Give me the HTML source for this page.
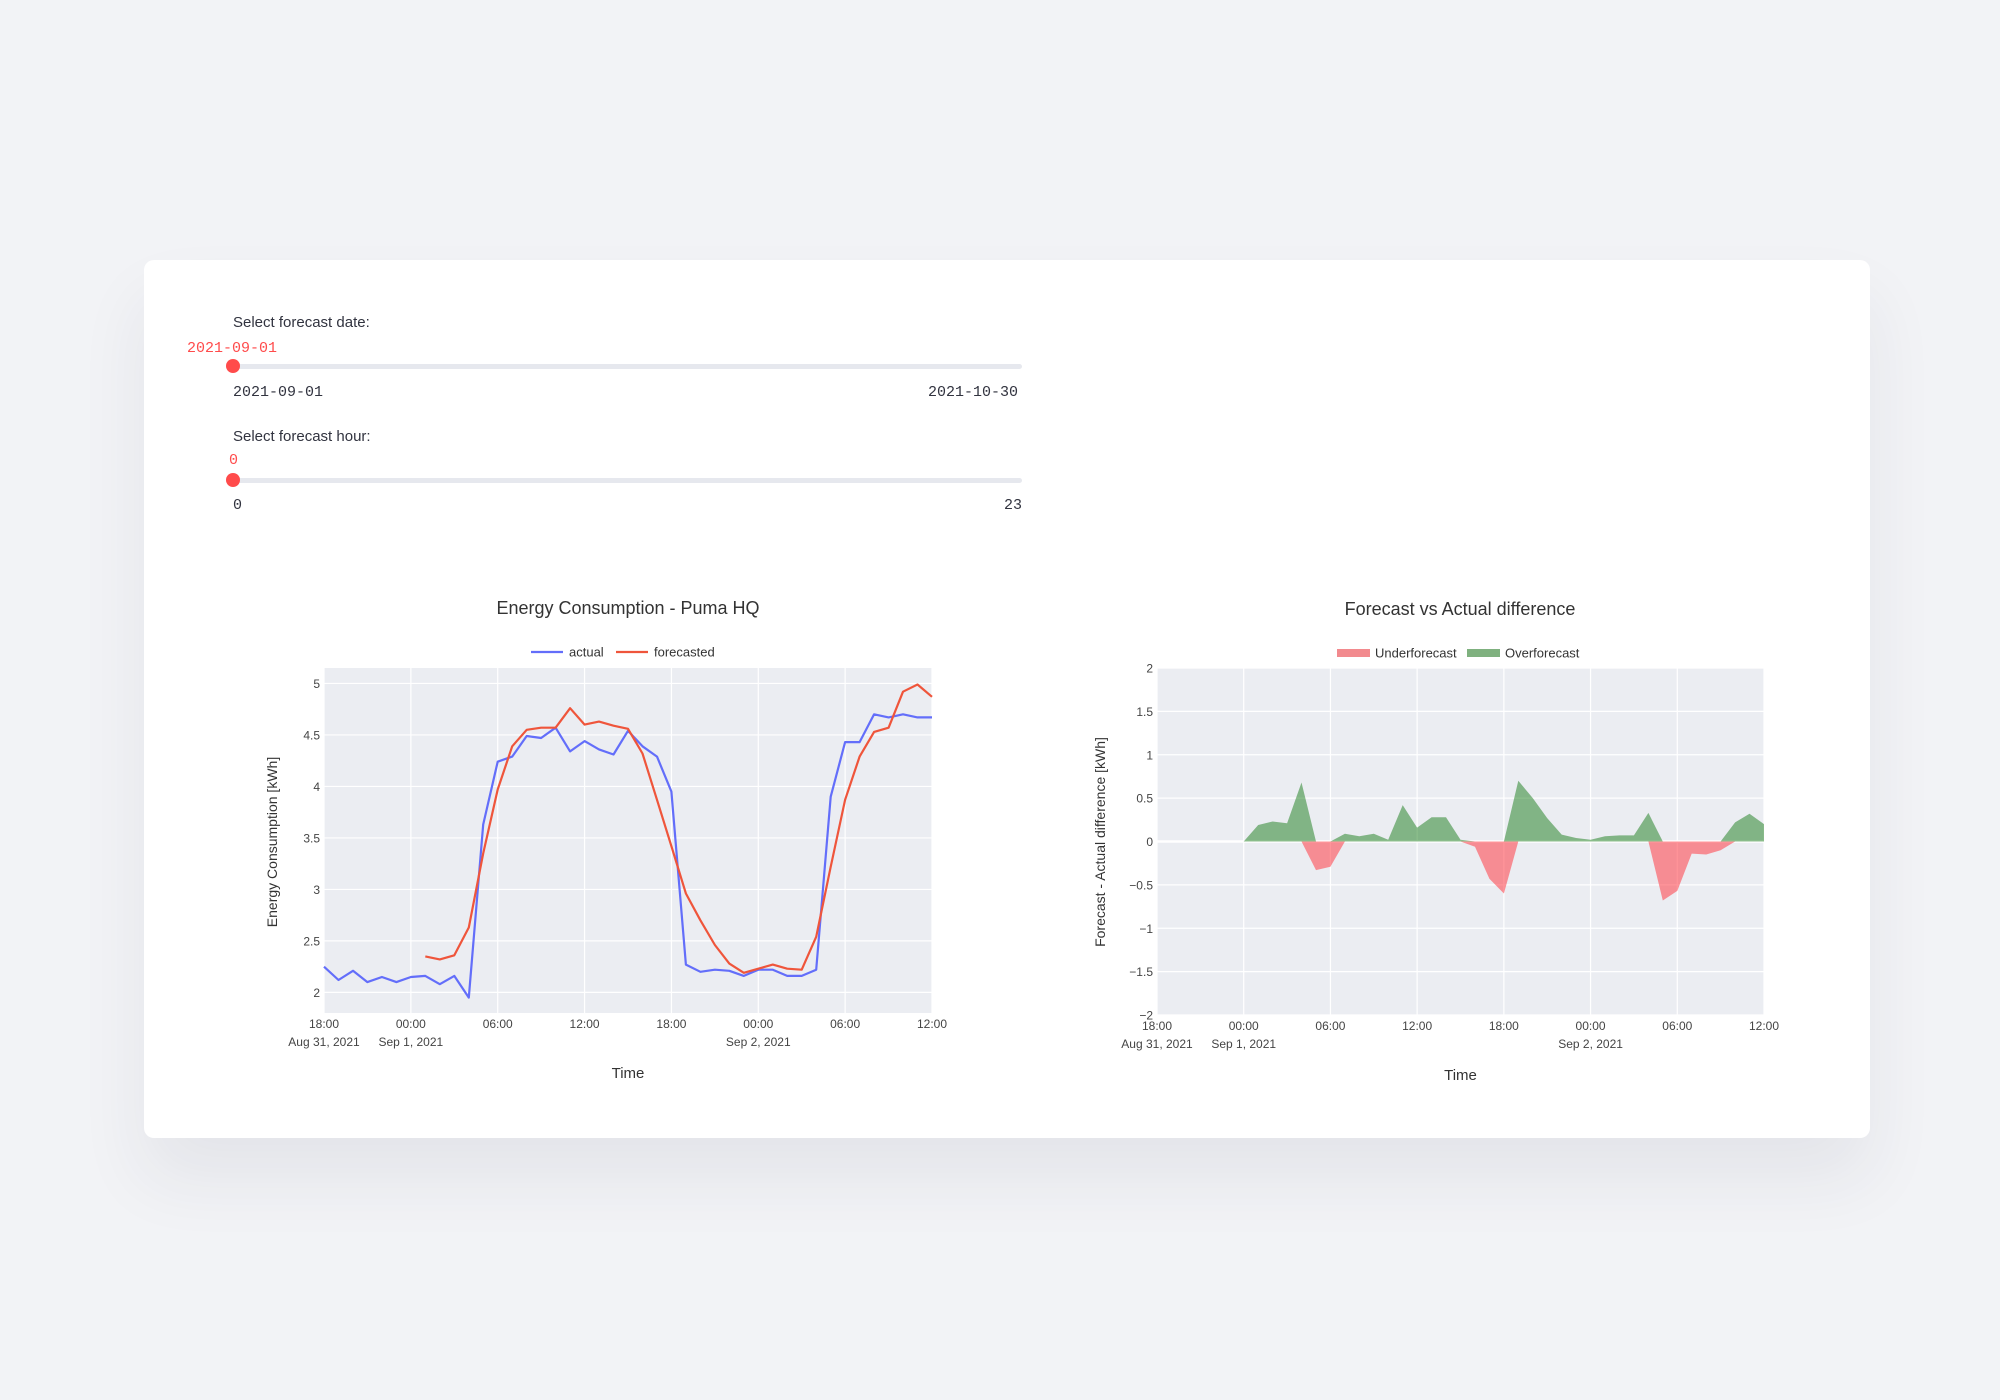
<!DOCTYPE html>
<html><head><meta charset="utf-8">
<style>
html,body{margin:0;padding:0;width:2000px;height:1400px;background:#f2f3f6;overflow:hidden;font-family:"Liberation Sans",sans-serif;}
.card{position:absolute;left:144px;top:260px;width:1726px;height:878px;background:#fff;border-radius:10px;box-shadow:0 40px 70px rgba(40,40,70,0.07);}
.lbl{position:absolute;font-size:15px;color:#31333f;}
.mono{position:absolute;font-family:"Liberation Mono",monospace;font-size:15px;color:#31333f;}
.red{color:#ff4b4b;}
.track{position:absolute;height:5px;background:#e6e8ee;border-radius:3px;}
.knob{position:absolute;width:14px;height:14px;border-radius:50%;background:#ff4b4b;}
svg{position:absolute;left:0;top:0;}
</style></head><body>
<div class="card"></div>
<div class="lbl" style="left:233px;top:314px">Select forecast date:</div>
<div class="mono red" style="left:187px;top:340px">2021-09-01</div>
<div class="track" style="left:233px;top:364px;width:789px"></div>
<div class="knob" style="left:226px;top:359px"></div>
<div class="mono" style="left:233px;top:384px">2021-09-01</div>
<div class="mono" style="left:928px;top:384px">2021-10-30</div>
<div class="lbl" style="left:233px;top:428px">Select forecast hour:</div>
<div class="mono red" style="left:229px;top:452px">0</div>
<div class="track" style="left:233px;top:478px;width:789px"></div>
<div class="knob" style="left:226px;top:473px"></div>
<div class="mono" style="left:233px;top:497px">0</div>
<div class="mono" style="left:1004px;top:497px">23</div>
<svg id="s" width="2000" height="1400" font-family="Liberation Sans, sans-serif"></svg>
<script>
var A=[2.25,2.12,2.21,2.10,2.15,2.10,2.15,2.16,2.08,2.16,1.95,3.63,4.24,4.29,4.49,4.47,4.57,4.34,4.44,4.36,4.31,4.54,4.39,4.29,3.95,2.27,2.20,2.22,2.21,2.16,2.22,2.22,2.16,2.16,2.22,3.90,4.43,4.43,4.70,4.67,4.70,4.67,4.67];
var F=[2.35,2.32,2.36,2.63,3.35,3.97,4.39,4.55,4.57,4.57,4.76,4.60,4.63,4.59,4.56,4.32,3.87,3.42,2.96,2.70,2.46,2.28,2.19,2.23,2.27,2.23,2.22,2.54,3.22,3.87,4.29,4.53,4.57,4.92,4.99,4.87];
var D=[0,0.19,0.23,0.21,0.68,-0.33,-0.29,0.09,0.06,0.09,0.02,0.42,0.16,0.28,0.28,0.02,-0.06,-0.43,-0.6,0.7,0.5,0.27,0.08,0.04,0.02,0.06,0.07,0.07,0.33,-0.68,-0.57,-0.14,-0.15,-0.10,0.22,0.32,0.2];
var h='';
function plot(x0,x1,y0,y1,vmin,vmax,ticks){
 var X=function(t){return x0+(x1-x0)*t/42};
 var Y=function(v){return y1-(y1-y0)*(v-vmin)/(vmax-vmin)};
 h+='<rect x="'+x0+'" y="'+y0+'" width="'+(x1-x0)+'" height="'+(y1-y0)+'" fill="#ebedf2"/>';
 for(var t=0;t<=42;t+=6)h+='<line x1="'+X(t)+'" x2="'+X(t)+'" y1="'+y0+'" y2="'+y1+'" stroke="#fff" stroke-width="1.2"/>';
 ticks.forEach(function(v){h+='<line x1="'+x0+'" x2="'+x1+'" y1="'+Y(v)+'" y2="'+Y(v)+'" stroke="#fff" stroke-width="'+(v==0?2.5:1.2)+'"/>';
 h+='<text x="'+(x0-4)+'" y="'+(Y(v)+4.5)+'" font-size="12" fill="#444" text-anchor="end">'+(v<0?'\u2212'+(-v):v)+'</text>';});
 var lab=['18:00','00:00','06:00','12:00','18:00','00:00','06:00','12:00'];
 for(var i=0;i<8;i++)h+='<text x="'+X(i*6)+'" y="'+(y1+15)+'" font-size="12" fill="#444" text-anchor="middle">'+lab[i]+'</text>';
 h+='<text x="'+X(0)+'" y="'+(y1+33)+'" font-size="12" fill="#444" text-anchor="middle">Aug 31, 2021</text>';
 h+='<text x="'+X(6)+'" y="'+(y1+33)+'" font-size="12" fill="#444" text-anchor="middle">Sep 1, 2021</text>';
 h+='<text x="'+X(30)+'" y="'+(y1+33)+'" font-size="12" fill="#444" text-anchor="middle">Sep 2, 2021</text>';
 h+='<text x="'+((x0+x1)/2)+'" y="'+(y1+65)+'" font-size="15" fill="#333" text-anchor="middle">Time</text>';
 return [X,Y];
}
var L=plot(324,932,668,1013,1.80,5.15,[2,2.5,3,3.5,4,4.5,5]);
function line(arr,off,f,col){var p='';arr.forEach(function(v,i){p+=(i?'L':'M')+f[0](i+off).toFixed(1)+','+f[1](v).toFixed(1)});h+='<path d="'+p+'" fill="none" stroke="'+col+'" stroke-width="2.2" stroke-linejoin="round"/>';}
line(A,0,L,'#636efa');line(F,7,L,'#ef553b');
h+='<text x="628" y="614" font-size="18" fill="#333" text-anchor="middle">Energy Consumption - Puma HQ</text>';
h+='<line x1="531" x2="563" y1="652" y2="652" stroke="#636efa" stroke-width="2.2"/><text x="569" y="656.5" font-size="13" fill="#333">actual</text>';
h+='<line x1="616" x2="648" y1="652" y2="652" stroke="#ef553b" stroke-width="2.2"/><text x="654" y="656.5" font-size="13" fill="#333">forecasted</text>';
h+='<text transform="translate(277,842) rotate(-90)" font-size="14" fill="#333" text-anchor="middle">Energy Consumption [kWh]</text>';
var R=plot(1157,1764,668,1015,-2,2,[-2,-1.5,-1,-0.5,0,0.5,1,1.5,2]);
function area(fn,col){var p='M'+R[0](6)+','+R[1](0);D.forEach(function(v,i){p+='L'+R[0](i+6).toFixed(1)+','+R[1](fn(v)).toFixed(1)});p+='L'+R[0](42)+','+R[1](0)+'Z';h+='<path d="'+p+'" fill="'+col+'" />';}
area(function(v){return Math.max(v,0)},'rgba(0,110,0,0.45)');
area(function(v){return Math.min(v,0)},'rgba(255,60,70,0.55)');
h+='<text x="1460" y="615" font-size="18" fill="#333" text-anchor="middle">Forecast vs Actual difference</text>';
h+='<rect x="1337" y="649" width="33" height="8" fill="#f28a8e"/><text x="1375" y="657.5" font-size="13" fill="#333">Underforecast</text>';
h+='<rect x="1467" y="649" width="33" height="8" fill="#7fb17f"/><text x="1505" y="657.5" font-size="13" fill="#333">Overforecast</text>';
h+='<text transform="translate(1105,842) rotate(-90)" font-size="14" fill="#333" text-anchor="middle">Forecast - Actual difference [kWh]</text>';
document.getElementById('s').innerHTML=h;
</script>
</body></html>
